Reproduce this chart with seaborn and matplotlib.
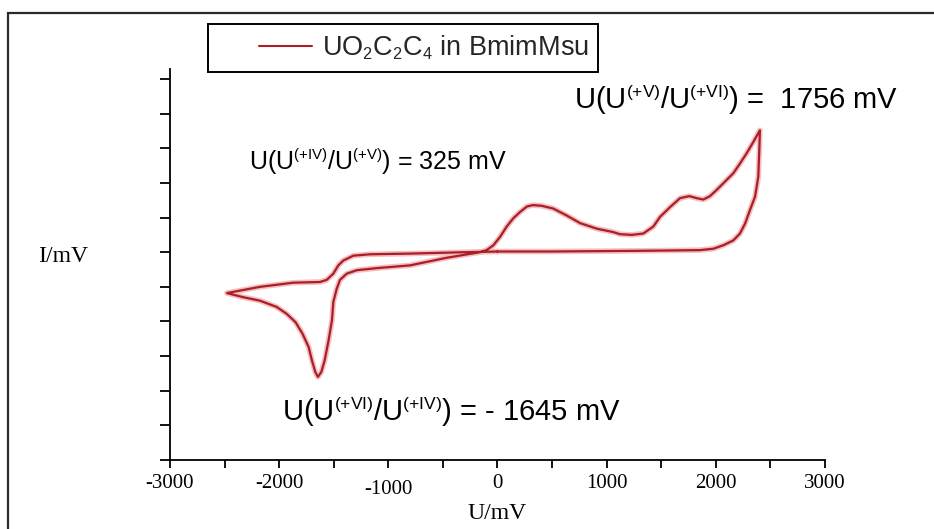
import numpy as np
import pandas as pd
import matplotlib
matplotlib.use("Agg")
import matplotlib.pyplot as plt
import matplotlib.patches as mpatches
import matplotlib._mathtext as mathtext_core
from matplotlib.lines import Line2D
from matplotlib.legend_handler import HandlerLine2D
from matplotlib.ticker import MultipleLocator
from matplotlib.transforms import ScaledTranslation
import seaborn as sns

# Cyclic voltammogram of UO2C2C4 in BmimMsu (one closed sweep)
potential_mv = [
    # anodic sweep along the baseline up to the vertex
    0, 480, 1300, 1855, 1977, 2068, 2160, 2221, 2267, 2313, 2359, 2389, 2398, 2404,
    # reverse sweep with the shoulder and the anodic wave
    2343, 2283, 2221, 2160, 2084, 2008, 1947, 1885, 1825, 1756, 1672, 1580, 1489,
    1427, 1336, 1230, 1122, 1061, 909, 756, 634, 511, 405, 325, 270, 206, 145, 84,
    23, -38, -99, -160, -465, -801, -1107, -1290, -1381, -1443, -1473, -1504,
    # cathodic wave
    -1516, -1547, -1583, -1614, -1645, -1669, -1700, -1730, -1785, -1850, -1931,
    -2023, -2176, -2328, -2478,
    # return from the negative vertex
    -2176, -1870, -1626, -1565, -1504, -1458, -1412, -1321, -1168, -801, -300, 0,
]
current = [
    0.01, 0.01, 0.02, 0.03, 0.05, 0.10, 0.17, 0.27, 0.41, 0.61, 0.80, 1.09, 1.47, 1.76,
    1.59, 1.43, 1.28, 1.14, 1.02, 0.90, 0.81, 0.76, 0.78, 0.81, 0.78, 0.65, 0.51,
    0.37, 0.27, 0.25, 0.26, 0.29, 0.34, 0.42, 0.53, 0.63, 0.67, 0.68, 0.66, 0.58, 0.49, 0.37,
    0.22, 0.10, 0.03, 0.00, -0.08, -0.19, -0.23, -0.26, -0.31, -0.40, -0.53, -0.72,
    -0.98, -1.27, -1.56, -1.73, -1.80, -1.73, -1.56, -1.37, -1.18, -1.01, -0.89,
    -0.79, -0.70, -0.65, -0.59,
    -0.50, -0.44, -0.43, -0.40, -0.31, -0.19, -0.12, -0.05, -0.03, -0.02, 0.00, 0.01,
]

x_ticks = [-3000, -2000, -1000, 0, 1000, 2000, 3000]
x_tick_labels = ["-3000", "-2000", "-1000", "0", "1000", "2000", "3000"]
y_ticks = [-3.0, -2.5, -2.0, -1.5, -1.0, -0.5, 0.0, 0.5, 1.0, 1.5, 2.0, 2.5]

legend_label = r"UO$_2$C$_2$C$_4$ in BmimMsu"
peak_labels = [
    r"U(U$^{(+V)}$/U$^{(+VI)}$) =  1756 mV",
    r"U(U$^{(+IV)}$/U$^{(+V)}$) = 325 mV",
    r"U(U$^{(+VI)}$/U$^{(+IV)}$) = - 1645 mV",
]

sns.set_theme(style="ticks")
plt.rcParams["font.family"] = ["Liberation Sans", "DejaVu Sans"]
plt.rcParams["mathtext.default"] = "regular"
# smaller oxidation-state superscripts and formula subscripts
mathtext_core.SHRINK_FACTOR = 0.6

df = pd.DataFrame({"U": potential_mv, "I": current})

fig = plt.figure(figsize=(9.34, 5.29), dpi=100)
fig.patch.set_facecolor("white")
ax = fig.add_axes([0.182, 0.1304, 0.7013, 0.7392])
ax.set_facecolor("white")

# soft halo under the trace, then the trace itself
sns.lineplot(data=df, x="U", y="I", sort=False, estimator=None, ax=ax,
             color="#f2a3a6", linewidth=4.0, alpha=0.7, legend=False)
sns.lineplot(data=df, x="U", y="I", sort=False, estimator=None, ax=ax,
             color="#a81f28", linewidth=1.6, legend=False)

ax.set_xlim(-3000, 3000)
ax.set_ylim(-3.0, 2.645)
ax.set_xticks(x_ticks)
ax.set_xticklabels(x_tick_labels)
ax.xaxis.set_minor_locator(MultipleLocator(500))
ax.set_yticks(y_ticks)
ax.set_yticklabels([])

for side in ("top", "right"):
    ax.spines[side].set_visible(False)
for side in ("left", "bottom"):
    ax.spines[side].set_color("black")
    ax.spines[side].set_linewidth(1.3)

ax.tick_params(axis="x", which="both", direction="out", length=6, width=1.3,
               color="black", labelsize=15, labelcolor="black", pad=4,
               labelfontfamily="Liberation Serif")
ax.tick_params(axis="y", which="both", direction="out", length=7, width=1.3,
               color="black")

# the -1000 label sits a little lower than its neighbours
for tick, lab in zip(ax.xaxis.get_major_ticks(), x_tick_labels):
    if lab == "-1000":
        tick.label1.set_transform(tick.label1.get_transform()
                                  + ScaledTranslation(0, -6 / 100, fig.dpi_scale_trans))

ax.set_xlabel("U/mV", fontsize=17, family="Liberation Serif", color="black")
ax.xaxis.set_label_coords(0.5, -0.11)
ax.set_ylabel("I/mV", fontsize=17, family="Liberation Serif", color="black",
              rotation=0, va="center", ha="center")
ax.yaxis.set_label_coords(-0.163, 0.52)

handle = Line2D([], [], color="#a81f28", linewidth=1.5)
leg = fig.legend([handle], [legend_label], loc="center",
                 bbox_to_anchor=(403 / 934, 1 - 48 / 529),
                 fontsize=19.5, frameon=True, fancybox=False, framealpha=1,
                 edgecolor="black", borderpad=0.35, handlelength=3.5,
                 handletextpad=0.35,
                 handler_map={Line2D: HandlerLine2D(xpad=1.55)})
leg.get_frame().set_linewidth(1.4)

fig.text(574 / 934, 1 - 100 / 529, peak_labels[0], fontsize=21,
         ha="left", va="center", color="black")
fig.text(249 / 934, 1 - 162 / 529, peak_labels[1], fontsize=18,
         ha="left", va="center", color="black")
fig.text(282 / 934, 1 - 412 / 529, peak_labels[2], fontsize=21,
         ha="left", va="center", color="black")

# outer frame around the whole chart
fig.add_artist(mpatches.Rectangle((8 / 934, -0.05), 1.0, 1 - 13 / 529 + 0.05,
                                  transform=fig.transFigure, fill=False,
                                  edgecolor="#2b2b2b", linewidth=1.6))

fig.savefig("out.png", dpi=100, facecolor="white")
